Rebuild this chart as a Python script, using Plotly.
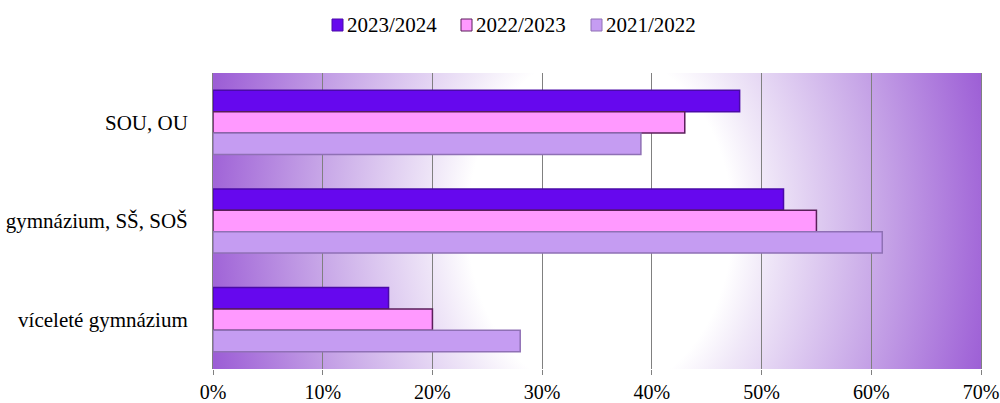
import base64
import plotly.graph_objects as go

categories = ["SOU, OU", "gymnázium, SŠ, SOŠ", "víceleté gymnázium"]
series_names = ["2023/2024", "2022/2023", "2021/2022"]
v_2023_2024 = [48, 52, 16]
v_2022_2023 = [43, 55, 20]
v_2021_2022 = [39, 61, 28]
values = [v_2023_2024, v_2022_2023, v_2021_2022]
tick_vals = [0, 10, 20, 30, 40, 50, 60, 70]
tick_text = ["0%", "10%", "20%", "30%", "40%", "50%", "60%", "70%"]

fills = ["#6608EE", "#FF99FF", "#C59CF2"]
lines = ["#4A0AA8", "#5A1E5A", "#8F70B5"]
FONT = "Liberation Serif"

W, H = 1000, 403
ML, MR, MT, MB = 213, 19, 73, 34
PW, PH = W - ML - MR, H - MT - MB

svg = """<svg xmlns='http://www.w3.org/2000/svg' width='768' height='296' viewBox='0 0 768 296' preserveAspectRatio='none'>
<defs><radialGradient id='g' gradientUnits='userSpaceOnUse' cx='0' cy='0' r='1'
 gradientTransform='translate(387,150) scale(400,520)'>
<stop offset='0' stop-color='#FFFFFF'/>
<stop offset='0.33' stop-color='#FFFFFF'/>
<stop offset='0.42' stop-color='#F0E8F8'/>
<stop offset='0.69' stop-color='#C9A9E8'/>
<stop offset='0.96' stop-color='#A267D8'/>
<stop offset='1' stop-color='#9C5ED5'/>
</radialGradient></defs>
<rect x='0' y='0' width='768' height='296' fill='url(#g)'/></svg>"""
src = "data:image/svg+xml;base64," + base64.b64encode(svg.encode()).decode()

fig = go.Figure()
for name, vals, f, l in zip(series_names, values, fills, lines):
    fig.add_trace(go.Bar(
        y=categories, x=vals, name=name, orientation="h", showlegend=False,
        marker=dict(color=f, line=dict(color=l, width=1.5)),
    ))

# custom legend (square + text), positioned in pixels
def px(x):
    return (x - ML) / PW

def py(y):
    return (H - MB - y) / PH

legend_x = [332, 461, 591]
shapes, annos = [], []
for lx, name, f, l in zip(legend_x, series_names, fills, lines):
    shapes.append(dict(type="rect", xref="paper", yref="paper",
                       x0=px(lx), x1=px(lx + 11), y0=py(31), y1=py(19),
                       fillcolor=f, line=dict(color=l, width=1)))
    annos.append(dict(xref="paper", yref="paper", x=px(lx + 13), y=py(25),
                      xanchor="left", yanchor="middle", showarrow=False,
                      text=name, font=dict(family=FONT, size=21, color="black")))

fig.update_layout(
    width=W, height=H,
    margin=dict(l=ML, r=MR, t=MT, b=MB, autoexpand=False),
    paper_bgcolor="white", plot_bgcolor="rgba(0,0,0,0)",
    barmode="group", bargap=0.35, bargroupgap=0,
    font=dict(family=FONT, size=21, color="black"),
    showlegend=False,
    images=[dict(source=src, xref="paper", yref="paper", x=0, y=1, sizex=1, sizey=1,
                 sizing="stretch", layer="below")],
    shapes=shapes, annotations=annos,
)
fig.update_xaxes(range=[0, 70], tickvals=tick_vals, ticktext=tick_text,
                 showgrid=True, gridcolor="#808080", gridwidth=1,
                 ticks="outside", ticklen=5, tickcolor="#808080",
                 zeroline=False, showline=False, automargin=False,
                 ticklabeloverflow="allow",
                 tickfont=dict(family=FONT, size=20))
fig.update_yaxes(autorange="reversed", showline=True, mirror=True,
                 linecolor="#808080", linewidth=1,
                 ticks="", ticklabelstandoff=20, showgrid=False, automargin=False,
                 tickfont=dict(family=FONT, size=21))

fig.write_html("out.html", config={"displayModeBar": False},
               post_script="document.body.style.margin='0';document.body.style.overflow='hidden';")
